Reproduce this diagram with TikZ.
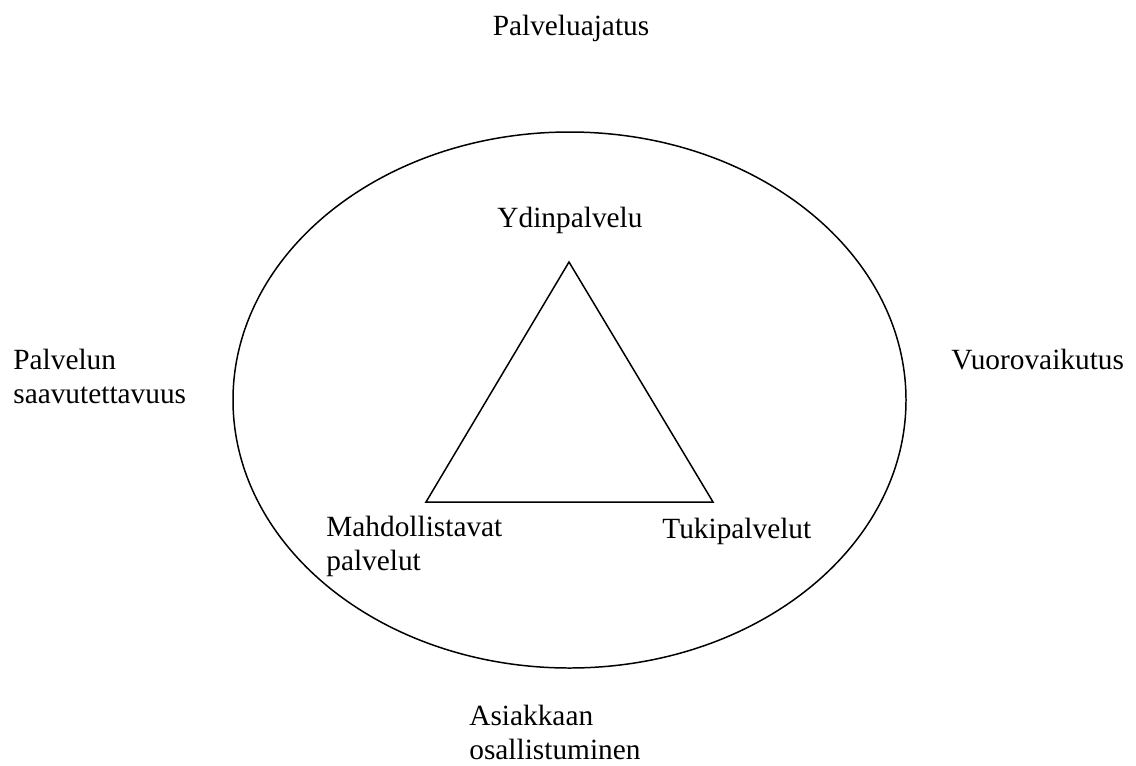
\documentclass[tikz,border=0pt]{standalone}
\usepackage{fontspec}
\setmainfont{Liberation Serif}
\tikzset{
  servtext/.style={font=\fontsize{16.7}{18.8}\selectfont, align=left, inner sep=0pt},
  servline/.style={line width=0.85pt}
}
\begin{document}
\begin{tikzpicture}[x=0.02cm,y=-0.02cm]
\useasboundingbox (0,0) rectangle (1136,765);
% outer circle
\draw[servline] (569.5,400) ellipse [x radius=336.5, y radius=268];
% triangle
\coordinate (apex) at (569,262);
\coordinate (baseL) at (426,502);
\coordinate (baseR) at (713,502);
\draw[servline, line join=miter] (apex) -- (baseL) -- (baseR) -- cycle;
% labels (base = last line)
\node[servtext, anchor=base] (idea) at (571,35) {Palveluajatus};
\node[servtext, anchor=base] (core) at (570,227) {Ydinpalvelu};
\node[servtext, anchor=base west] (access) at (13,403) {Palvelun\\saavutettavuus};
\node[servtext, anchor=base west] (interact) at (951,369) {Vuorovaikutus};
\node[servtext, anchor=base west] (enable) at (326,570) {Mahdollistavat\\palvelut};
\node[servtext, anchor=base west] (support) at (662,538) {Tukipalvelut};
\node[servtext, anchor=base west] (partic) at (469,759) {Asiakkaan\\osallistuminen};
\end{tikzpicture}
\end{document}
